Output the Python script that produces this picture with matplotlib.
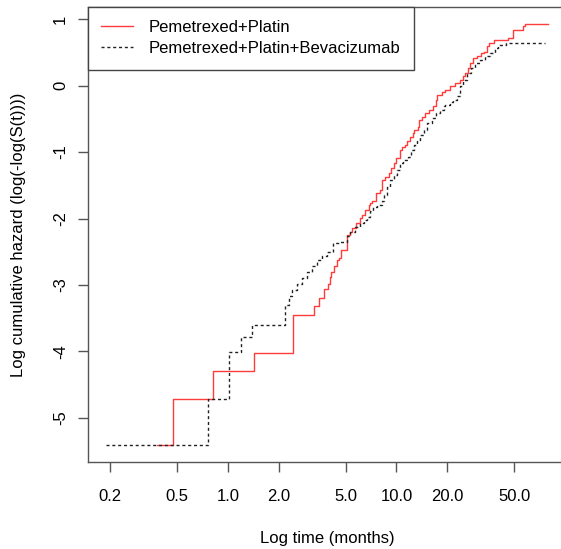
import numpy as np
import matplotlib
matplotlib.use('Agg')
import matplotlib.pyplot as plt
from matplotlib.ticker import FixedLocator, FixedFormatter, NullLocator

plt.rcParams['font.family'] = ['Liberation Sans', 'DejaVu Sans']

# step curves: time (months) and log cumulative hazard after each step
red_t = [0.38, 0.47, 0.81, 1.42, 2.44, 3.26, 3.46, 3.70, 3.91, 4.02,
         4.11, 4.29, 4.45, 4.59, 4.70, 5.10, 5.28, 5.46, 5.78, 6.05,
         6.28, 6.54, 6.84, 6.94, 7.17, 7.60, 8.03, 8.22, 8.60, 8.99,
         9.29, 9.62, 9.99, 10.45, 10.8, 11.3, 11.6, 12.0, 12.5, 12.8,
         13.4, 13.7, 14.2, 14.8, 15.7, 16.6, 17.2, 17.5, 18.6, 19.5,
         20.9, 22.3, 23.9, 24.8, 25.6, 26.8, 27.4, 28.7, 30.0, 31.7,
         33.2, 34.4, 35.7, 38.0, 46.2, 49.5, 56.3, 58.1, 79.8]
red_y = [-5.41, -4.72, -4.30, -4.02, -3.45, -3.31, -3.20, -3.06, -2.99, -2.88,
         -2.80, -2.72, -2.62, -2.59, -2.47, -2.25, -2.21, -2.14, -2.07, -1.99,
         -1.94, -1.87, -1.79, -1.77, -1.74, -1.62, -1.57, -1.42, -1.38, -1.32,
         -1.24, -1.17, -1.09, -0.97, -0.92, -0.89, -0.84, -0.77, -0.71, -0.67,
         -0.62, -0.51, -0.47, -0.41, -0.36, -0.30, -0.21, -0.14, -0.09, -0.06,
         -0.01, 0.04, 0.09, 0.14, 0.19, 0.26, 0.34, 0.41, 0.44, 0.49,
         0.51, 0.59, 0.64, 0.69, 0.715, 0.84, 0.90, 0.93, 0.93]

bev_t = [0.188, 0.76, 1.02, 1.20, 1.39, 2.19, 2.30, 2.40, 2.57, 2.76,
         2.95, 3.16, 3.38, 3.62, 3.88, 4.21, 4.54, 5.10, 5.33, 5.71,
         6.05, 6.39, 6.70, 7.00, 7.27, 7.67, 8.22, 8.40, 8.79, 9.20,
         9.62, 10.1, 10.5, 11.0, 11.8, 12.2, 12.8, 13.3, 13.9, 14.5,
         15.3, 16.3, 17.2, 18.2, 19.1, 19.5, 20.7, 21.8, 22.9, 23.9,
         25.0, 26.2, 27.7, 29.4, 31.4, 33.7, 36.1, 38.6, 40.3, 44.8, 76.3]
bev_y = [-5.41, -4.71, -4.01, -3.78, -3.60, -3.30, -3.17, -3.07, -2.99, -2.90,
         -2.80, -2.72, -2.62, -2.56, -2.50, -2.37, -2.35, -2.26, -2.20, -2.12,
         -2.07, -2.02, -1.97, -1.89, -1.82, -1.79, -1.74, -1.64, -1.52, -1.42,
         -1.34, -1.27, -1.17, -1.12, -1.07, -0.97, -0.89, -0.82, -0.74, -0.67,
         -0.56, -0.49, -0.41, -0.36, -0.31, -0.29, -0.24, -0.21, -0.16, -0.01,
         0.09, 0.19, 0.26, 0.34, 0.39, 0.44, 0.49, 0.56, 0.61, 0.64, 0.64]

labels = ['Pemetrexed+Platin', 'Pemetrexed+Platin+Bevacizumab']
x_ticks = [0.2, 0.5, 1.0, 2.0, 5.0, 10.0, 20.0, 50.0]
x_ticklabels = ['0.2', '0.5', '1.0', '2.0', '5.0', '10.0', '20.0', '50.0']
y_ticks = [-5, -4, -3, -2, -1, 0, 1]

fig = plt.figure(figsize=(5.61, 5.49), dpi=100)
ax = fig.add_axes([0.1569, 0.1585, 0.852, 0.8288])

ax.plot(red_t, red_y, drawstyle='steps-post', color='#ff3b3b', lw=1.0, label=labels[0])
ax.plot(bev_t, bev_y, drawstyle='steps-post', color='#222222', lw=1.0,
        linestyle=(0, (2.2, 2.0)), label=labels[1])

ax.set_xscale('log')
# R style 4% padding
lo = np.log10(min(bev_t[0], red_t[0]))
hi = np.log10(max(bev_t[-1], red_t[-1]))
pad = 0.04 * (hi - lo)
ax.set_xlim(10 ** (lo - pad), 10 ** (hi + pad))
ymin = min(min(red_y), min(bev_y))
ymax = max(max(red_y), max(bev_y))
ypad = 0.04 * (ymax - ymin)
ax.set_ylim(ymin - ypad, ymax + ypad)

ax.xaxis.set_major_locator(FixedLocator(x_ticks))
ax.xaxis.set_major_formatter(FixedFormatter(x_ticklabels))
ax.xaxis.set_minor_locator(NullLocator())
ax.set_yticks(y_ticks)
ax.set_yticklabels([str(v) for v in y_ticks], rotation=90, va='center')

for s in ax.spines.values():
    s.set_color('#555555')
    s.set_linewidth(1.0)
ax.tick_params(direction='out', length=7.5, width=1.0, color='#555555', labelsize=12)
ax.tick_params(axis='x', pad=12)
ax.tick_params(axis='y', pad=7)

ax.set_xlabel('Log time (months)', fontsize=12, va='center')
ax.xaxis.set_label_coords(0.5, -0.168)
ax.set_ylabel('Log cumulative hazard (log(-log(S(t))))', fontsize=12, va='center')
ax.yaxis.set_label_coords(-0.146, 0.5)

leg = ax.legend(loc='upper left', bbox_to_anchor=(0, 1), borderaxespad=0,
                fancybox=False, framealpha=1, edgecolor='#444444', fontsize=12,
                handlelength=1.9, handletextpad=0.95, borderpad=0.8, labelspacing=0.36)
leg.get_frame().set_linewidth(1.0)

fig.savefig('out.png', dpi=100)
